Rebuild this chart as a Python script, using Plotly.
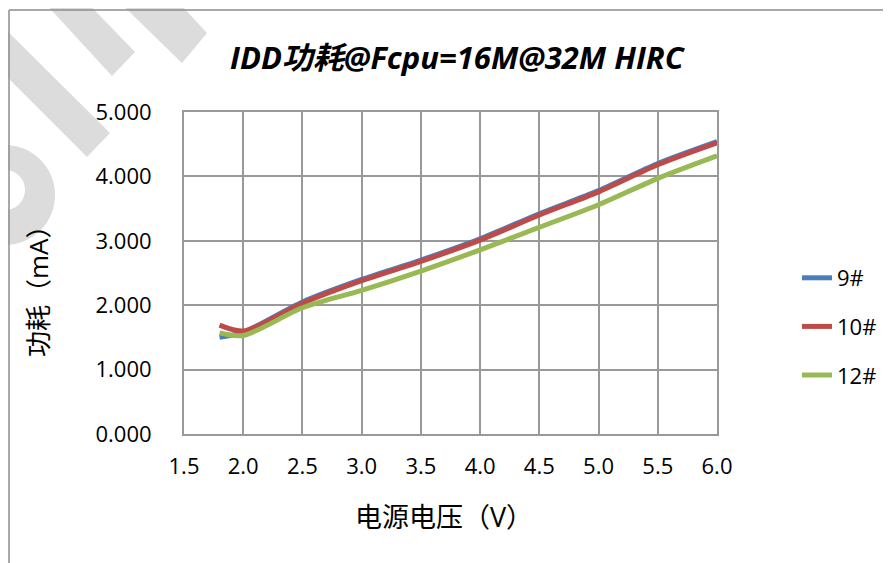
import plotly.graph_objects as go

voltage = [1.8, 2.0, 2.5, 3.0, 3.5, 4.0, 4.5, 5.0, 5.5, 6.0]
idd_9 = [1.50, 1.58, 2.05, 2.40, 2.70, 3.03, 3.42, 3.78, 4.20, 4.54]
idd_10 = [1.69, 1.60, 2.03, 2.38, 2.68, 3.01, 3.40, 3.76, 4.18, 4.52]
idd_12 = [1.57, 1.53, 1.96, 2.23, 2.53, 2.86, 3.21, 3.56, 3.97, 4.32]
series_names = ["9#", "10#", "12#"]
series_colors = ["#4a7ebb", "#be4b48", "#98b954"]

W, H = 891, 563
OFF = 8  # page body margin
L, R, T, B = 184, 717, 112, 434

def px(x, y):
    return (x - L) / (R - L), (B - y) / (B - T)

fig = go.Figure()
for name, vals, col in zip(series_names, [idd_9, idd_10, idd_12], series_colors):
    fig.add_trace(go.Scatter(x=voltage, y=vals, name=name, mode="lines",
                             line=dict(color=col, width=5, shape="spline", smoothing=0.8),
                             legendgroup=name))

def poly(pts):
    s = ""
    for k, (x, y) in enumerate(pts):
        xp, yp = px(x, y)
        s += ("M" if k == 0 else "L") + f"{xp:.4f},{yp:.4f} "
    return s + "Z"

shapes = []
wm = "#dcdcdc"
for pts in [
    [(107, -10), (167, -10), (207, 33), (182, 63)],
    [(33, -10), (75, -10), (135, 52), (112, 76)],
    [(-10, 14), (-10, 60), (87, 157), (110, 133)],
]:
    shapes.append(dict(type="path", xref="paper", yref="paper", path=poly(pts),
                       fillcolor=wm, line=dict(width=0), layer="below"))

def circ(cx, cy, r, col):
    x0, y0 = px(cx - r, cy + r)
    x1, y1 = px(cx + r, cy - r)
    return dict(type="circle", xref="paper", yref="paper", x0=x0, y0=y0, x1=x1, y1=y1,
                fillcolor=col, line=dict(width=0), layer="below")

shapes.append(circ(5, 195, 50, wm))
shapes.append(circ(5, 190, 20, "white"))

def seg(xa, ya, xb, yb):
    p0 = px(xa, ya)
    p1 = px(xb, yb)
    return dict(type="line", xref="paper", yref="paper", x0=p0[0], y0=p0[1], x1=p1[0], y1=p1[1],
                line=dict(color="#8c8c8c", width=1.5), layer="above")

shapes.append(seg(9, 10, 905, 10))
shapes.append(seg(9, 10, 9, 610))

font_fam = "Open Sans, Noto Sans CJK SC, sans-serif"
cx, cy = px(458, 57)
ax_x, ax_y = px(444, 517)
ay_x, ay_y = px(38, 285)
annotations = [
    dict(text="<b><i>IDD功耗@Fcpu=16M@32M HIRC</i></b>", x=cx, y=cy, xref="paper", yref="paper",
         xanchor="center", yanchor="middle",
         showarrow=False, font=dict(size=31, color="#000000", family=font_fam)),
    dict(text="电源电压（V）", x=ax_x, y=ax_y, xref="paper", yref="paper",
         xanchor="center", yanchor="middle",
         showarrow=False, font=dict(size=27, color="#000000", family=font_fam)),
    dict(text="功耗（mA）", x=ay_x, y=ay_y, xref="paper", yref="paper", textangle=-90,
         xanchor="center", yanchor="middle",
         showarrow=False, font=dict(size=26, color="#000000", family=font_fam)),
]

lx, ly = px(797, 257)
fig.update_layout(
    width=W, height=H,
    margin=dict(l=L - OFF, r=W - R + OFF, t=T - OFF, b=H - B + OFF, pad=0),
    paper_bgcolor="white", plot_bgcolor="white",
    font=dict(family=font_fam, size=22, color="#000000"),
    shapes=shapes, annotations=annotations,
    showlegend=True,
    legend=dict(x=lx, y=ly, xanchor="left", yanchor="top", xref="paper", yref="paper",
                font=dict(size=22), tracegroupgap=17, traceorder="grouped",
                bgcolor="rgba(0,0,0,0)"),
    xaxis=dict(range=[1.5, 6.0], dtick=0.5, tick0=1.5, tickformat=".1f",
               showgrid=True, gridcolor="#999999", gridwidth=2,
               showline=True, linecolor="#999999", linewidth=2, mirror=True,
               zeroline=False, ticks="", ticklabelstandoff=12,
               tickfont=dict(size=22)),
    yaxis=dict(range=[0, 5], dtick=1, tickformat=".3f",
               showgrid=True, gridcolor="#999999", gridwidth=2,
               showline=True, linecolor="#999999", linewidth=2, mirror=True,
               zeroline=False, ticks="", ticklabelstandoff=26,
               tickfont=dict(size=22)),
)
fig.write_html("out.html")
